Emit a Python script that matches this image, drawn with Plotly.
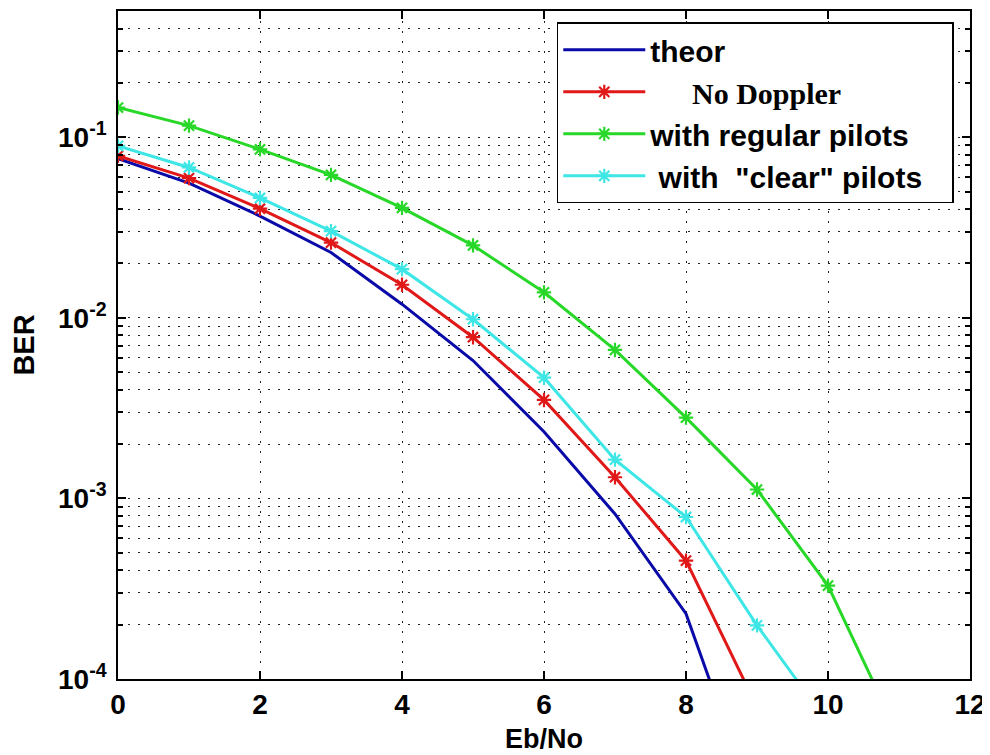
import plotly.graph_objects as go
import math

# ---- data ----
ebno_theor = [0, 1, 2, 3, 4, 5, 6, 7, 8, 9]
ber_theor = [0.0762, 0.0557, 0.0366, 0.0230, 0.0119, 0.0058, 0.00234, 0.00082, 0.00023, 0.000018]

ebno_nodopp = [0, 1, 2, 3, 4, 5, 6, 7, 8, 9]
ber_nodopp = [0.0789, 0.0594, 0.0402, 0.0261, 0.01524, 0.00781, 0.00351, 0.00131, 0.000452, 0.00007]

ebno_regular = [0, 1, 2, 3, 4, 5, 6, 7, 8, 9, 10, 11]
ber_regular = [0.146, 0.116, 0.0857, 0.0619, 0.0406, 0.0252, 0.01384, 0.00664, 0.0028, 0.00112, 0.000329, 0.000048]

ebno_clear = [0, 1, 2, 3, 4, 5, 6, 7, 8, 9, 10]
ber_clear = [0.0895, 0.068, 0.0461, 0.0302, 0.0186, 0.00982, 0.00466, 0.00164, 0.000789, 0.000198, 0.000057]

x_ticks = [0, 2, 4, 6, 8, 10, 12]
y_ticks = [1e-4, 1e-3, 1e-2, 1e-1]
y_ticktext = ["10<sup>-4</sup>", "10<sup>-3</sup>", "10<sup>-2</sup>", "10<sup>-1</sup>"]
y_minor = [m * 10.0 ** e for e in (-4, -3, -2) for m in range(2, 10)] + [0.2, 0.3, 0.4, 0.5]

NBSP = "\u00a0"
names = [
    "theor",
    NBSP * 5 + "<span style='font-family:\"Liberation Serif\", \"Times New Roman\", serif'>No Doppler</span>",
    "with regular pilots",
    NBSP + "with" + NBSP * 2 + "\"clear\" pilots" + NBSP * 3,
]
colors = ["#0a0aa8", "#e01818", "#28d828", "#3ee6e6"]

fig = go.Figure()
fig.add_trace(go.Scatter(x=ebno_theor, y=ber_theor, mode="lines", name=names[0],
                         legendgroup="g0",
                         line=dict(color=colors[0], width=3)))
series = [(ebno_nodopp, ber_nodopp), (ebno_regular, ber_regular), (ebno_clear, ber_clear)]
for i, (xs, ys) in enumerate(series, start=1):
    fig.add_trace(go.Scatter(
        x=xs, y=ys, mode="lines+markers", name=names[i], legendgroup="g%d" % i,
        line=dict(color=colors[i], width=3),
        marker=dict(symbol="asterisk-open", size=12, color=colors[i],
                    line=dict(color=colors[i], width=2.2)),
        cliponaxis=True,
    ))

grid_dash = "2px,8px"
FAM = "Arial, Liberation Sans, sans-serif"
tick_font = dict(family=FAM, size=28, color="black", weight="bold")

fig.update_layout(
    width=990, height=755,
    margin=dict(l=110, r=28, t=1, b=84),
    paper_bgcolor="white", plot_bgcolor="white",
    font=dict(family=FAM, color="black"),
    showlegend=True,
    legend=dict(
        x=0.515, y=0.983, xanchor="left", yanchor="top",
        bgcolor="white", bordercolor="black", borderwidth=1.5,
        font=dict(family=FAM, size=30, color="black", weight="bold"),
        itemwidth=82, traceorder="grouped", tracegroupgap=0,
    ),
    xaxis=dict(
        range=[0, 12], tickvals=x_ticks, ticktext=[str(v) for v in x_ticks],
        showline=True, linecolor="black", linewidth=1.5, mirror="allticks",
        ticks="inside", ticklen=8, tickcolor="black", tickwidth=1.5,
        showgrid=True, gridcolor="#222", gridwidth=1, griddash=grid_dash,
        zeroline=False, tickfont=tick_font,
        title=dict(text="Eb/No", font=dict(family=FAM, size=27, weight="bold"), standoff=10),
    ),
    yaxis=dict(
        type="log", range=[-4, math.log10(0.5)],
        tickvals=y_ticks, ticktext=y_ticktext, ticklabelstandoff=4,
        showline=True, linecolor="black", linewidth=1.5, mirror="allticks",
        ticks="inside", ticklen=8, tickcolor="black", tickwidth=1.5,
        showgrid=True, gridcolor="#222", gridwidth=1, griddash=grid_dash,
        zeroline=False, tickfont=tick_font,
        minor=dict(tickmode="array", tickvals=y_minor, ticks="inside", ticklen=5,
                   tickcolor="black", showgrid=True, gridcolor="#222", gridwidth=1,
                   griddash=grid_dash),
        title=dict(text="BER", font=dict(family=FAM, size=29, weight="bold"), standoff=22),
    ),
)

fig.write_html("out.html")
